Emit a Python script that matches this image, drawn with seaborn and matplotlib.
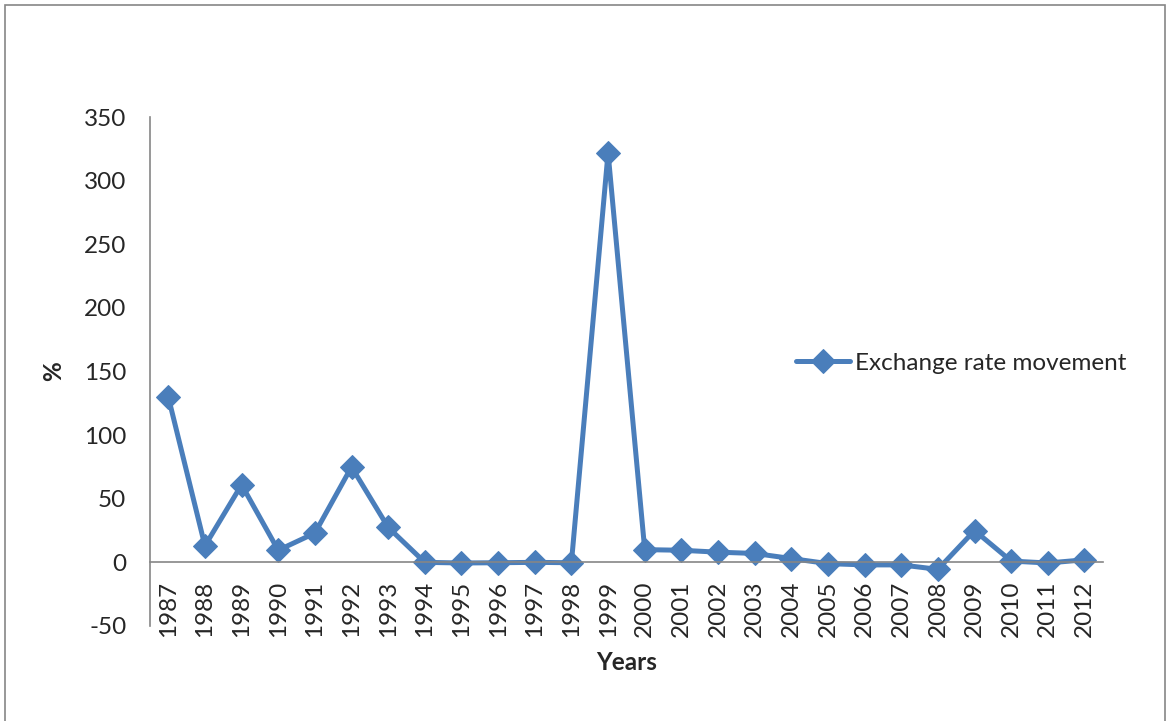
import numpy as np
import pandas as pd
import matplotlib
matplotlib.use("Agg")
import matplotlib.pyplot as plt
import seaborn as sns
from matplotlib.patches import Rectangle

years = list(range(1987, 2013))
movement = [130, 13, 61, 9.5, 23, 75, 27.5, 0, -0.5, -0.3, 0, -0.3,
            322, 10, 9.5, 8, 7, 3, -1, -2, -2, -5.5, 25, 1, -0.5, 2]
y_ticks = [-50, 0, 50, 100, 150, 200, 250, 300, 350]

df = pd.DataFrame({"Years": years, "Exchange rate movement": movement})

sns.set_style("white")
plt.rcParams["font.family"] = ["Lato", "DejaVu Sans"]

blue = "#4A7EBB"
axis_grey = "#868686"
fs = 17.5

fig = plt.figure(figsize=(11.67, 7.21), dpi=100)
ax = fig.add_axes([0.1285, 0.1318, 0.8165, 0.7059])

sns.lineplot(data=df, x="Years", y="Exchange rate movement", ax=ax,
             color=blue, linewidth=3.6, marker="D", markersize=12,
             markeredgecolor=blue, markerfacecolor=blue,
             label="Exchange rate movement", legend=False)

# spines first: moving a spine resets its axis ticks
for side in ("top", "right"):
    ax.spines[side].set_visible(False)
ax.spines["bottom"].set_position(("data", 0))
for side in ("left", "bottom"):
    ax.spines[side].set_color(axis_grey)
    ax.spines[side].set_linewidth(1.2)

ax.set_xlim(years[0] - 0.5, years[-1] + 0.5)
ax.set_ylim(-50, 350)
ax.set_yticks(y_ticks)
ax.set_yticklabels([str(v) for v in y_ticks], fontsize=fs)

ax.set_xticks(years)
ax.set_xticklabels([str(y) for y in years], rotation=90, fontsize=fs)
ax.set_xticks([y - 0.5 for y in years] + [years[-1] + 0.5], minor=True)
ax.tick_params(axis="x", which="major", length=0, pad=13)
ax.tick_params(axis="x", which="minor", length=7, width=1.2,
               color=axis_grey, direction="out")
ax.tick_params(axis="y", which="major", length=7, width=1.2,
               color=axis_grey, direction="out", pad=10)

ax.set_xlabel("Years", fontsize=fs, fontweight="bold")
ax.xaxis.set_label_coords(0.5, -0.05)
ax.set_ylabel("%", fontsize=fs, fontweight="bold")
ax.yaxis.set_label_coords(-0.089, 0.5)

handles, labels = ax.get_legend_handles_labels()
fig.legend(handles, labels, loc="center left",
           bbox_to_anchor=(0.674, 0.496), frameon=False, fontsize=fs,
           handlelength=2.2, handletextpad=0.2, borderaxespad=0)

# outer chart frame
fig.patches.append(Rectangle((0.0043, -0.02), 0.994, 1.013,
                             transform=fig.transFigure, fill=False,
                             edgecolor=axis_grey, linewidth=1.2))

fig.savefig("out.png", dpi=100)
